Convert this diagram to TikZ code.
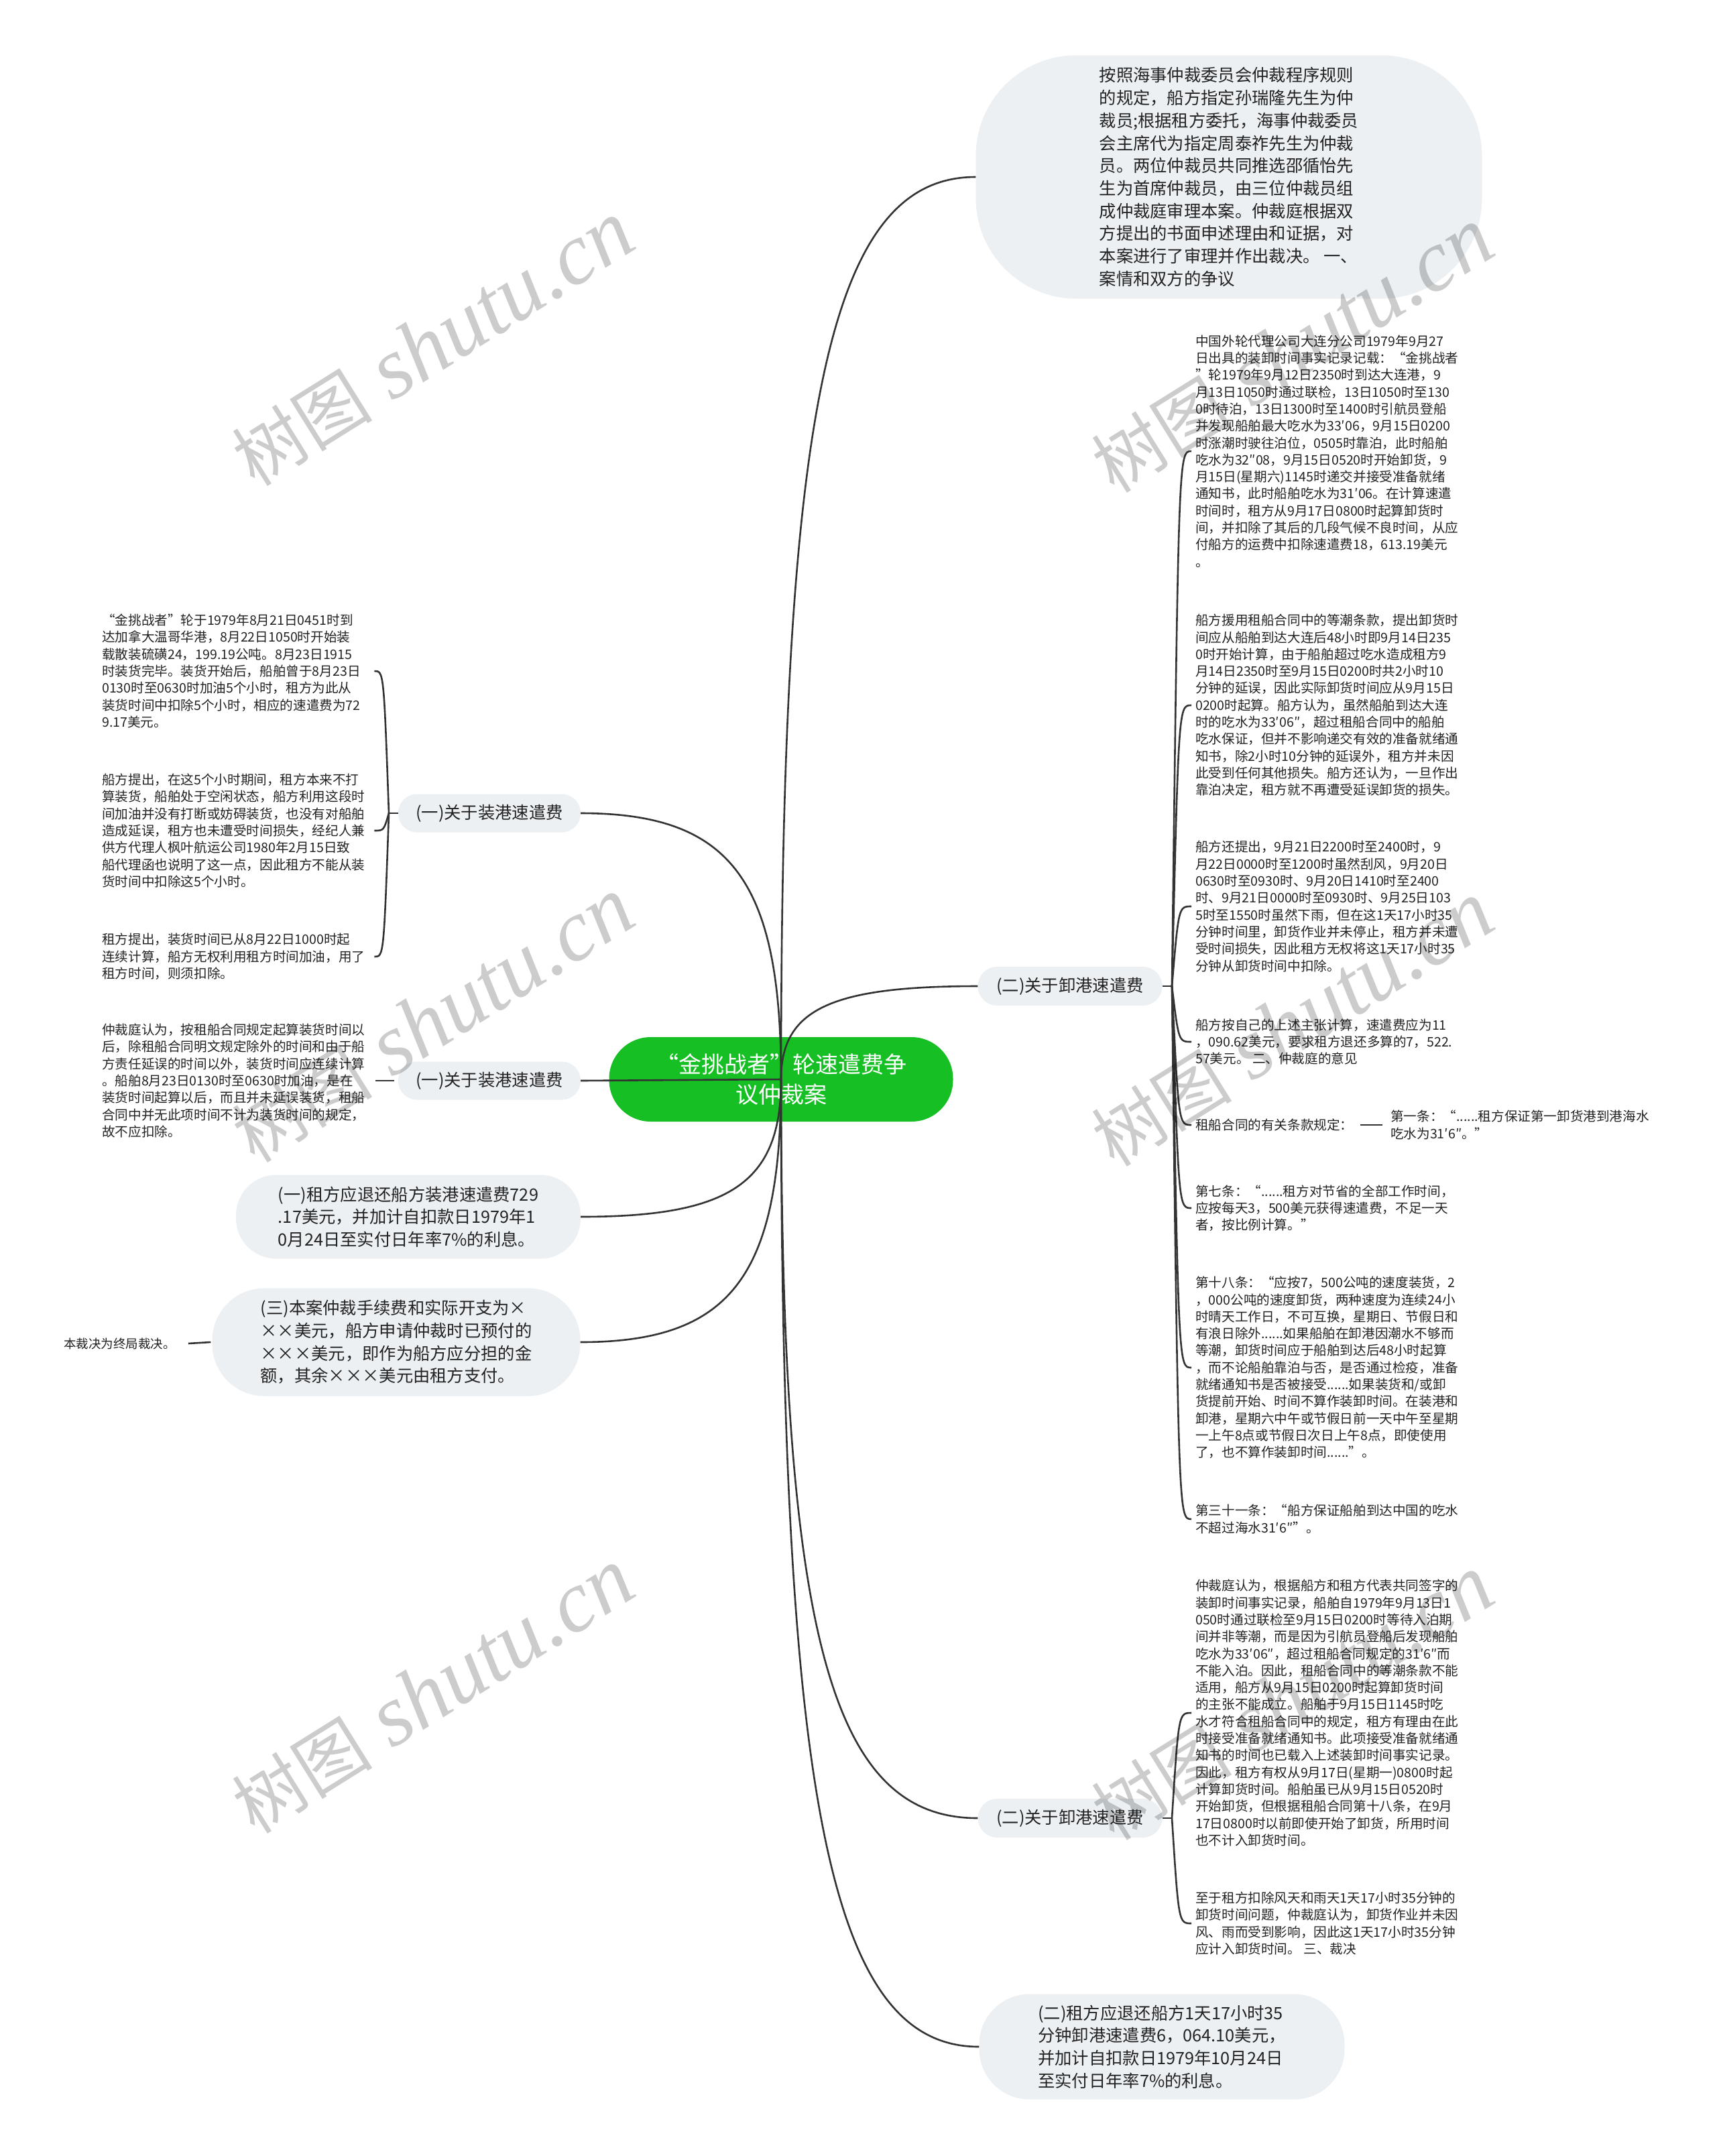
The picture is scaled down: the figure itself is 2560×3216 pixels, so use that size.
\documentclass[tikz,border=0pt]{standalone}
\usepackage{fontspec}
\newfontfamily\cjk{Noto Sans CJK SC}
\newfontfamily\wmfont{Liberation Serif}
\usetikzlibrary{calc}
\definecolor{bubgray}{RGB}{237,240,243}
\definecolor{rootgreen}{RGB}{22,192,36}
\definecolor{txt}{RGB}{34,34,34}
\definecolor{linec}{RGB}{51,51,51}
\tikzset{
  small/.style={font=\cjk\fontsize{19.6}{25.3}\selectfont, text=txt, inner sep=0pt, align=left},
  big/.style={font=\cjk\fontsize{25.3}{33.7}\selectfont, text=txt, inner sep=0pt, align=left},
  bub/.style={big, fill=bubgray},
  rootbox/.style={fill=rootgreen, text=white, font=\cjk\fontsize{34}{45}\selectfont, align=center,
    inner sep=0pt, minimum width=513pt, minimum height=126pt, rounded corners=62pt},
  conn/.style={draw=linec, line width=2.6pt},
  wm/.style={text=black, opacity=0.2, rotate=32, inner sep=0pt},
}
\begin{document}
\begin{tikzpicture}[x=1pt,y=-1pt]
\fill[white] (0,0) rectangle (2560,3216);
\useasboundingbox (0,0) rectangle (2560,3216);

% ---------- root ----------
\node[rootbox] (root) at (1165,1610) {“金挑战者”轮速遣费争\\议仲裁案};

% ---------- right side ----------
\node[bub, minimum width=755pt, minimum height=363pt, rounded corners=150pt] (R0) at (1833,264)
{按照海事仲裁委员会仲裁程序规则\\的规定，船方指定孙瑞隆先生为仲\\裁员;根据租方委托，海事仲裁委员\\会主席代为指定周泰祚先生为仲裁\\员。两位仲裁员共同推选邵循怡先\\生为首席仲裁员，由三位仲裁员组\\成仲裁庭审理本案。仲裁庭根据双\\方提出的书面申述理由和证据，对\\本案进行了审理并作出裁决。 一、\\案情和双方的争议};

\node[bub, minimum width=275pt, minimum height=58pt, rounded corners=29pt] (R1) at (1596,1471) {(二)关于卸港速遣费};

\node[small, anchor=west] (R1a) at (1783,673)
{中国外轮代理公司大连分公司1979年9月27\\日出具的装卸时间事实记录记载：“金挑战者\\”轮1979年9月12日2350时到达大连港，9\\月13日1050时通过联检，13日1050时至130\\0时待泊，13日1300时至1400时引航员登船\\并发现船舶最大吃水为33′06，9月15日0200\\时涨潮时驶往泊位，0505时靠泊，此时船舶\\吃水为32″08，9月15日0520时开始卸货，9\\月15日(星期六)1145时递交并接受准备就绪\\通知书，此时船舶吃水为31′06。在计算速遣\\时间时，租方从9月17日0800时起算卸货时\\间，并扣除了其后的几段气候不良时间，从应\\付船方的运费中扣除速遣费18，613.19美元\\。};

\node[small, anchor=west] (R1b) at (1783,1052)
{船方援用租船合同中的等潮条款，提出卸货时\\间应从船舶到达大连后48小时即9月14日235\\0时开始计算，由于船舶超过吃水造成租方9\\月14日2350时至9月15日0200时共2小时10\\分钟的延误，因此实际卸货时间应从9月15日\\0200时起算。船方认为，虽然船舶到达大连\\时的吃水为33′06″，超过租船合同中的船舶\\吃水保证，但并不影响递交有效的准备就绪通\\知书，除2小时10分钟的延误外，租方并未因\\此受到任何其他损失。船方还认为，一旦作出\\靠泊决定，租方就不再遭受延误卸货的损失。};

\node[small, anchor=west] (R1c) at (1783,1352)
{船方还提出，9月21日2200时至2400时，9\\月22日0000时至1200时虽然刮风，9月20日\\0630时至0930时、9月20日1410时至2400\\时、9月21日0000时至0930时、9月25日103\\5时至1550时虽然下雨，但在这1天17小时35\\分钟时间里，卸货作业并未停止，租方并未遭\\受时间损失，因此租方无权将这1天17小时35\\分钟从卸货时间中扣除。};

\node[small, anchor=west] (R1d) at (1783,1554)
{船方按自己的上述主张计算，速遣费应为11\\，090.62美元，要求租方退还多算的7，522.\\57美元。 二、仲裁庭的意见};

\node[small, anchor=west] (R1e) at (1783,1678) {租船合同的有关条款规定：};
\node[small, anchor=west] (R1e1) at (2074,1678)
{第一条：“......租方保证第一卸货港到港海水\\吃水为31′6″。”};

\node[small, anchor=west] (R1f) at (1783,1802)
{第七条：“......租方对节省的全部工作时间，\\应按每天3，500美元获得速遣费，不足一天\\者，按比例计算。”};

\node[small, anchor=west] (R1g) at (1783,2040)
{第十八条：“应按7，500公吨的速度装货，2\\，000公吨的速度卸货，两种速度为连续24小\\时晴天工作日，不可互换，星期日、节假日和\\有浪日除外......如果船舶在卸港因潮水不够而\\等潮，卸货时间应于船舶到达后48小时起算\\，而不论船舶靠泊与否，是否通过检疫，准备\\就绪通知书是否被接受......如果装货和/或卸\\货提前开始、时间不算作装卸时间。在装港和\\卸港，星期六中午或节假日前一天中午至星期\\一上午8点或节假日次日上午8点，即使使用\\了，也不算作装卸时间......”。};

\node[small, anchor=west] (R1h) at (1783,2266)
{第三十一条：“船方保证船舶到达中国的吃水\\不超过海水31′6″”。};

\node[bub, minimum width=275pt, minimum height=58pt, rounded corners=29pt] (R2) at (1596,2712) {(二)关于卸港速遣费};

\node[small, anchor=west] (R2a) at (1783,2555)
{仲裁庭认为，根据船方和租方代表共同签字的\\装卸时间事实记录，船舶自1979年9月13日1\\050时通过联检至9月15日0200时等待入泊期\\间并非等潮，而是因为引航员登船后发现船舶\\吃水为33′06″，超过租船合同规定的31′6″而\\不能入泊。因此，租船合同中的等潮条款不能\\适用，船方从9月15日0200时起算卸货时间\\的主张不能成立。船舶于9月15日1145时吃\\水才符合租船合同中的规定，租方有理由在此\\时接受准备就绪通知书。此项接受准备就绪通\\知书的时间也已载入上述装卸时间事实记录。\\因此，租方有权从9月17日(星期一)0800时起\\计算卸货时间。船舶虽已从9月15日0520时\\开始卸货，但根据租船合同第十八条，在9月\\17日0800时以前即使开始了卸货，所用时间\\也不计入卸货时间。};

\node[small, anchor=west] (R2b) at (1783,2869)
{至于租方扣除风天和雨天1天17小时35分钟的\\卸货时间问题，仲裁庭认为，卸货作业并未因\\风、雨而受到影响，因此这1天17小时35分钟\\应计入卸货时间。 三、裁决};

\node[bub, minimum width=545pt, minimum height=157pt, rounded corners=75pt] (R3) at (1733,3053)
{(二)租方应退还船方1天17小时35\\分钟卸港速遣费6，064.10美元，\\并加计自扣款日1979年10月24日\\至实付日年率7\%的利息。};

% ---------- left side ----------
\node[bub, minimum width=272pt, minimum height=57pt, rounded corners=28pt] (L1) at (730,1213) {(一)关于装港速遣费};

\node[small, anchor=west, text width=400pt] (L1a) at (152,1001)
{“金挑战者”轮于1979年8月21日0451时到\\达加拿大温哥华港，8月22日1050时开始装\\载散装硫磺24，199.19公吨。8月23日1915\\时装货完毕。装货开始后，船舶曾于8月23日\\0130时至0630时加油5个小时，租方为此从\\装货时间中扣除5个小时，相应的速遣费为72\\9.17美元。};

\node[small, anchor=west, text width=400pt] (L1b) at (152,1239)
{船方提出，在这5个小时期间，租方本来不打\\算装货，船舶处于空闲状态，船方利用这段时\\间加油并没有打断或妨碍装货，也没有对船舶\\造成延误，租方也未遭受时间损失，经纪人兼\\供方代理人枫叶航运公司1980年2月15日致\\船代理函也说明了这一点，因此租方不能从装\\货时间中扣除这5个小时。};

\node[small, anchor=west, text width=400pt] (L1c) at (152,1427)
{租方提出，装货时间已从8月22日1000时起\\连续计算，船方无权利用租方时间加油，用了\\租方时间，则须扣除。};

\node[bub, minimum width=272pt, minimum height=57pt, rounded corners=28pt] (L2) at (730,1612) {(一)关于装港速遣费};

\node[small, anchor=west, text width=400pt] (L2a) at (152,1612)
{仲裁庭认为，按租船合同规定起算装货时间以\\后，除租船合同明文规定除外的时间和由于船\\方责任延误的时间以外，装货时间应连续计算\\。船舶8月23日0130时至0630时加油，是在\\装货时间起算以后，而且并未延误装货，租船\\合同中并无此项时间不计为装货时间的规定，\\故不应扣除。};

\node[bub, minimum width=514pt, minimum height=125pt, rounded corners=60pt] (L3) at (609,1815)
{(一)租方应退还船方装港速遣费729\\.17美元，并加计自扣款日1979年1\\0月24日至实付日年率7\%的利息。};

\node[bub, minimum width=549pt, minimum height=161pt, rounded corners=78pt] (L4) at (591,2002)
{(三)本案仲裁手续费和实际开支为×\\××美元，船方申请仲裁时已预付的\\×××美元，即作为船方应分担的金\\额，其余×××美元由租方支付。};

\node[small, font=\cjk\fontsize{18.5}{24}\selectfont, anchor=west] (L4c) at (95,2004) {本裁决为终局裁决。};

% ---------- connectors from root ----------
\draw[conn] (root.center) .. controls (1165,601) and (1238,264) .. (R0.west);
\draw[conn] (root.center) .. controls (1165,1506) and (1238,1471) .. (R1.west);
\draw[conn] (root.center) .. controls (1165,2437) and (1238,2712) .. (R2.west);
\draw[conn] (root.center) .. controls (1165,2693) and (1239,3053) .. (R3.west);
\draw[conn] (root.center) .. controls (1165,1313) and (1090,1213) .. (L1.east);
\draw[conn] (root.center) -- (L2.east);
\draw[conn] (root.center) .. controls (1165,1764) and (1090,1815) .. (L3.east);
\draw[conn] (root.center) .. controls (1165,1904) and (1090,2002) .. (L4.east);

% ---------- brackets ----------
\coordinate (R1j) at (1748,1471);
\draw[conn] (R1.east) -- (R1j);
\foreach \n in {R1a,R1b,R1c,R1d,R1e,R1f,R1g,R1h}
  \draw[conn] (R1j) .. controls ([xshift=-25pt]\n.west) and ([xshift=-25pt]\n.west) .. ([xshift=-6pt]\n.west);
\draw[conn] ([xshift=10pt]R1e.east) -- ([xshift=-12pt]R1e1.west);

\coordinate (R2j) at (1748,2712);
\draw[conn] (R2.east) -- (R2j);
\foreach \n in {R2a,R2b}
  \draw[conn] (R2j) .. controls ([xshift=-25pt]\n.west) and ([xshift=-25pt]\n.west) .. ([xshift=-6pt]\n.west);

\coordinate (L1j) at (580,1213);
\draw[conn] (L1.west) -- (L1j);
\foreach \n in {L1a,L1b,L1c}
  \draw[conn] (L1j) .. controls ([xshift=20pt]\n.east) and ([xshift=20pt]\n.east) .. ([xshift=6pt]\n.east);

\draw[conn] ([xshift=-6pt]L2.west) -- ([xshift=8pt]L2a.east);
\draw[conn] ([xshift=-2pt]L4.west) -- ([xshift=19pt]L4c.east);

% ---------- watermarks ----------
\foreach \p/\q in {646/513, 1928/523, 646/1522, 1928/1528, 646/2523, 1928/2533}
  \node[wm] at (\p,\q) {{\cjk\fontsize{105}{110}\selectfont 树图}\hspace{30pt}{\wmfont\itshape\fontsize{130}{130}\selectfont shutu.cn}};
\end{tikzpicture}
\end{document}
